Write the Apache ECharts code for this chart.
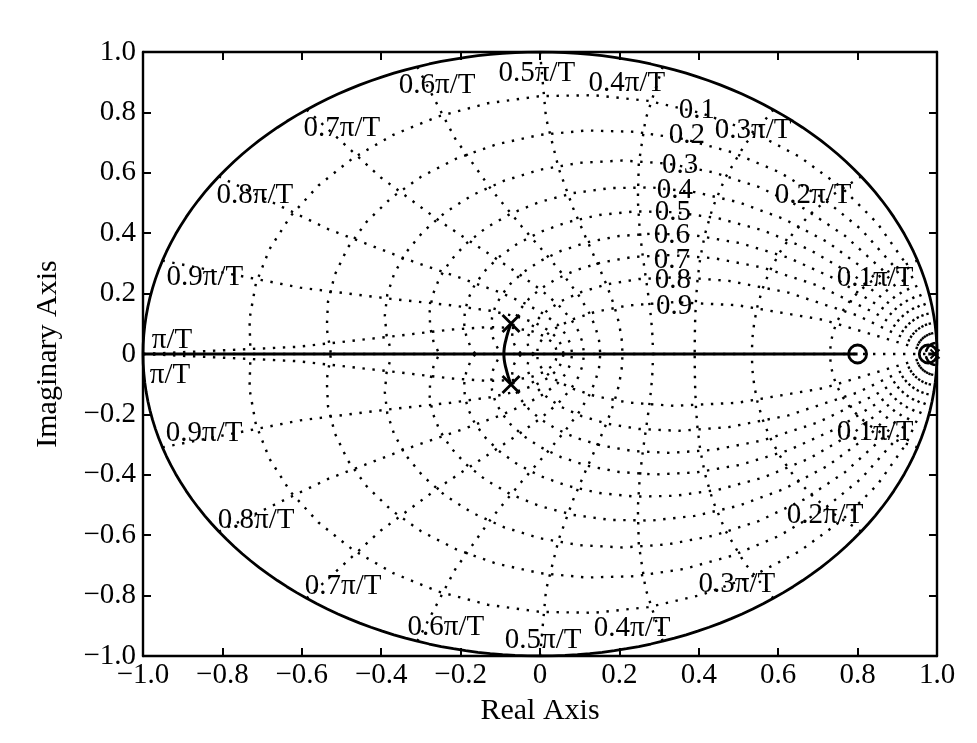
<!DOCTYPE html>
<html><head><meta charset="utf-8">
<script src="https://cdn.jsdelivr.net/npm/echarts@6/dist/echarts.min.js"></script>
<style>html,body{margin:0;padding:0;background:#fff}#c{width:977px;height:743px}</style>
</head><body><div id="c"></div>
<script>
// ---- data ----
const zetaValues = [0.1, 0.2, 0.3, 0.4, 0.5, 0.6, 0.7, 0.8, 0.9];
const wnValues = [0.1, 0.2, 0.3, 0.4, 0.5, 0.6, 0.7, 0.8, 0.9, 1.0]; // multiples of pi/T

const zetaLabelText = ['0.1','0.2','0.3','0.4','0.5','0.6','0.7','0.8','0.9'];
const zetaLabelX = [0.395, 0.370, 0.353, 0.340, 0.335, 0.332, 0.332, 0.335, 0.338];
const zetaLabelY = [0.808, 0.725, 0.626, 0.543, 0.470, 0.394, 0.311, 0.245, 0.156];

const wnLabelText = ['0.1π/T','0.2π/T','0.3π/T','0.4π/T','0.5π/T','0.6π/T','0.7π/T','0.8π/T','0.9π/T','π/T'];
const wnUpperX = [0.844, 0.688, 0.537, 0.219, -0.008, -0.259, -0.499, -0.718, -0.844, -0.927];
const wnUpperY = [0.252, 0.526, 0.742, 0.897, 0.930, 0.891, 0.748, 0.526, 0.255, 0.046];
const wnLowerX = [0.844, 0.718, 0.496, 0.232, 0.008, -0.237, -0.496, -0.715, -0.846, -0.932];
const wnLowerY = [-0.258, -0.533, -0.762, -0.907, -0.947, -0.904, -0.768, -0.550, -0.262, -0.070];

const poleX = [-0.073, -0.073];
const poleY = [0.101, -0.101];
const smallPoleX = [0.995];
const smallPoleY = [0];
const zeroX = [0.8, 0.978];
const zeroY = [0, 0];

const arcX = [-0.073, -0.080, -0.086, -0.090, -0.091, -0.090, -0.086, -0.080, -0.073];
const arcY = [0.101, 0.075, 0.046, 0.020, 0, -0.020, -0.046, -0.075, -0.101];
const realLocusX = [-1.0, 0.8];
const realLocusY = [0, 0];
const shortLocusX = [0.978, 0.995];
const shortLocusY = [0, 0];

// ---- build ----
const FONT = 'Liberation Serif';
const series = [];
const dotted = {color: '#000', width: 2.4, type: [2.4, 7.6]};
function addLine(pts, style, z) {
  series.push({type: 'line', data: pts, symbol: 'none', lineStyle: style, silent: true, animation: false, z: z || 2});
}
// damping ratio lines (zgrid)
zetaValues.forEach(zeta => {
  const m = Math.tan(Math.asin(zeta));
  const up = [], dn = [];
  for (let k = 0; k <= 20; k++) {
    const t = k * Math.PI / 20;
    const r = Math.exp(-m * t);
    up.push([r * Math.cos(t), r * Math.sin(t)]);
    dn.push([r * Math.cos(t), -r * Math.sin(t)]);
  }
  addLine(up, dotted); addLine(dn, dotted);
});
// natural frequency lines (zgrid)
wnValues.forEach(w => {
  const wn = w * Math.PI;
  const up = [], dn = [];
  for (let k = 0; k <= 10; k++) {
    const th = Math.PI / 2 + k * Math.PI / 20;
    const r = Math.exp(wn * Math.cos(th));
    const a = wn * Math.sin(th);
    up.push([r * Math.cos(a), r * Math.sin(a)]);
    dn.push([r * Math.cos(a), -r * Math.sin(a)]);
  }
  addLine(up, dotted); addLine(dn, dotted);
});
addLine([[-1, 0], [1, 0]], dotted);
// unit circle
const circ = [];
for (let k = 0; k <= 200; k++) { const a = 2 * Math.PI * k / 200; circ.push([Math.cos(a), Math.sin(a)]); }
addLine(circ, {color: '#000', width: 2.8}, 3);
// root locus
const zip = (xs, ys) => xs.map((x, i) => [x, ys[i]]);
addLine(zip(realLocusX, realLocusY), {color: '#000', width: 3}, 4);
addLine(zip(shortLocusX, shortLocusY), {color: '#000', width: 3}, 4);
series.push({type: 'line', data: zip(arcX, arcY), symbol: 'none', smooth: true, lineStyle: {color: '#000', width: 3}, silent: true, animation: false, z: 4});
// poles
series.push({type: 'scatter', data: zip(poleX, poleY), symbol: 'path://M0,0L100,100M100,0L0,100', symbolSize: 17,
  itemStyle: {color: 'rgba(0,0,0,0)', borderColor: '#000', borderWidth: 2.8, opacity: 1}, silent: true, animation: false, z: 5});
series.push({type: 'scatter', data: zip(smallPoleX, smallPoleY), symbol: 'path://M0,0L100,100M100,0L0,100', symbolSize: 9,
  itemStyle: {color: 'rgba(0,0,0,0)', borderColor: '#000', borderWidth: 2, opacity: 1}, silent: true, animation: false, z: 5});
// zeros
series.push({type: 'scatter', data: zip(zeroX, zeroY), symbol: 'circle', symbolSize: 18,
  itemStyle: {color: 'rgba(0,0,0,0)', borderColor: '#000', borderWidth: 2.8, opacity: 1}, silent: true, animation: false, z: 5});
// grid labels
function labelSeries(texts, xs, ys) {
  series.push({type: 'scatter', symbol: 'circle', symbolSize: 1, silent: true, animation: false, z: 6,
    itemStyle: {color: 'rgba(0,0,0,0)', opacity: 1},
    data: texts.map((t, i) => ({name: t, value: [xs[i], ys[i]]})),
    label: {show: true, position: 'inside', formatter: '{b}', color: '#000', textBorderWidth: 0, textBorderColor: 'transparent',
      fontFamily: FONT, fontSize: 29}});
}
labelSeries(zetaLabelText, zetaLabelX, zetaLabelY);
labelSeries(wnLabelText, wnUpperX, wnUpperY);
labelSeries(wnLabelText, wnLowerX, wnLowerY);

const fmt = v => { if (Math.abs(v) < 1e-9) return '0'; return (v < 0 ? '\u2212' : '') + Math.abs(v).toFixed(1); };
const axisCommon = {type: 'value', min: -1, max: 1, interval: 0.2,
  axisLine: {show: true, onZero: false, lineStyle: {color: '#000', width: 2.4}},
  axisTick: {show: true, inside: true, length: 8, lineStyle: {color: '#000', width: 2}},
  splitLine: {show: false}};
const option = {
  animation: false,
  backgroundColor: '#fff',
  grid: {left: 143, right: 40, top: 52, bottom: 87, containLabel: false},
  xAxis: [
    Object.assign({}, axisCommon, {position: 'bottom', name: 'Real Axis', nameLocation: 'middle', nameGap: 40,
      nameTextStyle: {color: '#000', fontFamily: FONT, fontSize: 30},
      axisLabel: {color: '#000', fontFamily: FONT, fontSize: 29, margin: 5, formatter: fmt}}),
    Object.assign({}, axisCommon, {position: 'top', axisLabel: {show: false}})
  ],
  yAxis: [
    Object.assign({}, axisCommon, {position: 'left', name: 'Imaginary Axis', nameLocation: 'middle', nameGap: 80,
      nameTextStyle: {color: '#000', fontFamily: FONT, fontSize: 30},
      axisLabel: {color: '#000', fontFamily: FONT, fontSize: 29, margin: 7, formatter: fmt}}),
    Object.assign({}, axisCommon, {position: 'right', axisLabel: {show: false}})
  ],
  series: series
};
echarts.init(document.getElementById('c'), null, {renderer: 'canvas'}).setOption(option);
</script></body></html>
